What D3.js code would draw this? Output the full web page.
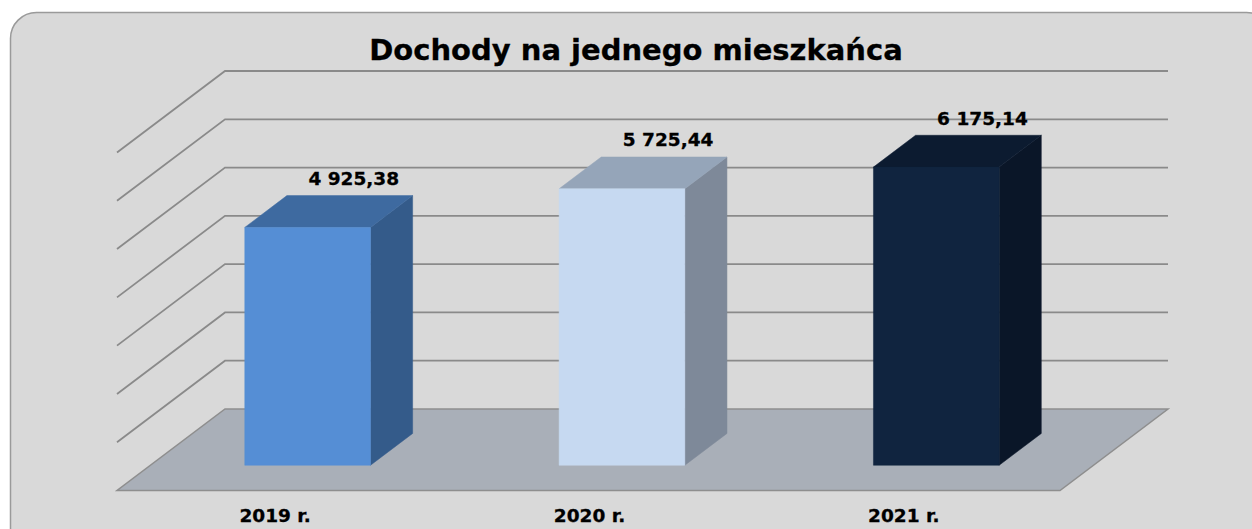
<!DOCTYPE html>
<html>
<head>
<meta charset="utf-8">
<script src="https://cdn.jsdelivr.net/npm/d3@7"></script>
<style>
  html, body { margin: 0; padding: 0; background: #ffffff; }
  svg { display: block; }
  text { font-family: "DejaVu Sans", Verdana, sans-serif; font-weight: bold; fill: #000; }
</style>
</head>
<body>
<svg id="chart" width="1252" height="529"></svg>
<script>
// ---- data ----
const title = "Dochody na jednego mieszkańca";
const categories = ["2019 r.", "2020 r.", "2021 r."];
const values = [4925.38, 5725.44, 6175.14];
const valueLabels = ["4 925,38", "5 725,44", "6 175,14"];
const tickValues = [0, 1000, 2000, 3000, 4000, 5000, 6000, 7000];
const frontColors = ["#558ed5", "#c6d9f1", "#10243f"];
const topColors = ["#3e6aa0", "#95a5b9", "#0c1b30"];
const sideColors = ["#345b8a", "#7e8999", "#0a1628"];

// ---- layout ----
const svg = d3.select("#chart");

// back wall plane
const wallLeft = 225, wallRight = 1168;
const DX = -108, DY = 81.5;          // full depth offset (back -> front)
const fBack = 0.3, fFront = 0.69;     // bar depth extent

const x = d3.scaleBand().domain(categories).range([wallLeft, wallRight])
  .paddingInner(0.6).paddingOuter(0.3);
const y = d3.scaleLinear().domain([0, 7000]).range([409, 71]);

const P = (px, py, f) => [px + DX * f, py + DY * f];

// background frame
svg.append("rect")
  .attr("x", 10.5).attr("y", 12.5).attr("width", 1262).attr("height", 545)
  .attr("rx", 26).attr("ry", 26)
  .attr("fill", "#d9d9d9").attr("stroke", "#9a9a9a").attr("stroke-width", 1.5);

// floor
const floorPts = [P(wallLeft, y(0), 0), P(wallRight, y(0), 0), P(wallRight, y(0), 1), P(wallLeft, y(0), 1)];
svg.append("polygon")
  .attr("points", floorPts.map(p => p.join(",")).join(" "))
  .attr("fill", "#a9afb8").attr("stroke", "#8e8e8e").attr("stroke-width", 1.5);

// gridlines: back wall + side wall
const grid = svg.append("g").attr("fill", "none").attr("stroke", "#8a8a8a").attr("stroke-width", 1.8);
tickValues.filter(v => v > 0).forEach(v => {
  const a = P(wallLeft, y(v), 1), b = P(wallLeft, y(v), 0), c = P(wallRight, y(v), 0);
  grid.append("polyline").attr("points", [a, b, c].map(p => p.join(",")).join(" "));
});

// bars
const bars = svg.append("g");
categories.forEach((cat, i) => {
  const x0 = x(cat), x1 = x(cat) + x.bandwidth();
  const yt = y(values[i]), yb = y(0);
  const g = bars.append("g");
  const poly = (pts, fill) => g.append("polygon")
    .attr("points", pts.map(p => p.join(",")).join(" ")).attr("fill", fill)
    .attr("stroke", fill).attr("stroke-width", 0.5);
  poly([P(x1, yt, fFront), P(x1, yb, fFront), P(x1, yb, fBack), P(x1, yt, fBack)], sideColors[i]);
  poly([P(x0, yt, fFront), P(x1, yt, fFront), P(x1, yt, fBack), P(x0, yt, fBack)], topColors[i]);
  poly([P(x0, yt, fFront), P(x1, yt, fFront), P(x1, yb, fFront), P(x0, yb, fFront)], frontColors[i]);

  // value label
  const lp = P(x0 + x.bandwidth() / 2, yt, fBack);
  svg.append("text").attr("x", lp[0] + 4).attr("y", lp[1] - 10.5)
    .attr("text-anchor", "middle").attr("font-size", 18.5).attr("stroke", "#000").attr("stroke-width", 0.3)
    .text(valueLabels[i]);

  // category label
  const cp = P(x0 + x.bandwidth() / 2, yb, 1);
  svg.append("text").attr("x", cp[0] + 1).attr("y", 522)
    .attr("text-anchor", "middle").attr("font-size", 18.5).attr("stroke", "#000").attr("stroke-width", 0.3)
    .text(cat);
});

// title
svg.append("text").attr("x", 636).attr("y", 60)
  .attr("text-anchor", "middle").attr("font-size", 29).attr("stroke", "#000").attr("stroke-width", 0.3)
  .text(title);
</script>
</body>
</html>
